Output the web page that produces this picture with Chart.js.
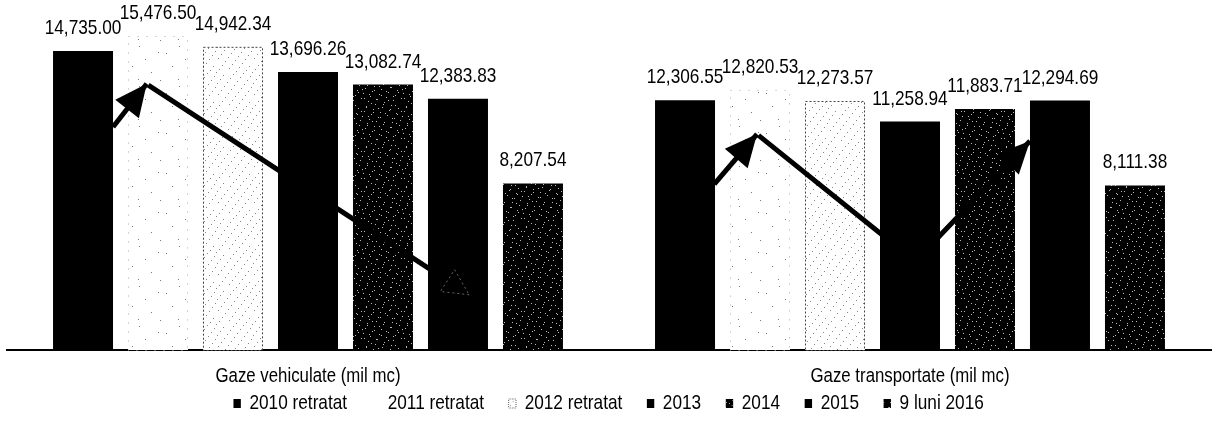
<!DOCTYPE html>
<html>
<head>
<meta charset="utf-8">
<script src="https://cdn.jsdelivr.net/npm/chart.js@4"></script>
<style>
html, body { margin: 0; padding: 0; background: #fff; }
#wrap { width: 1214px; height: 424px; }
</style>
</head>
<body>
<div id="wrap"><canvas id="chartGaze"></canvas></div>
<script>
// DATA
const categories = ['Gaze vehiculate (mil mc)', 'Gaze transportate (mil mc)'];
const seriesNames = ['2010 retratat', '2011 retratat', '2012 retratat', '2013', '2014', '2015', '9 luni 2016'];
const v2010 = [14735.00, 12306.55];
const v2011 = [15476.50, 12820.53];
const v2012 = [14942.34, 12273.57];
const v2013 = [13696.26, 11258.94];
const v2014 = [13082.74, 11883.71];
const v2015 = [12383.83, 12294.69];
const v2016 = [8207.54, 8111.38];

// trend arrows drawn over the bars: [category, bar slot, value]
const arrowPaths = [
    { pts: [[0, 0.40, 10990], [0, 0.85, 13120]], head: 'solid' },
    { pts: [[0, 0.87, 13050], [0, 5.15, 2720]], head: 'outline' },
    { pts: [[1, 0.39, 8170], [1, 0.96, 10640]], head: 'solid' },
    { pts: [[1, 0.98, 10580], [1, 3.07, 4360], [1, 4.60, 10300]], head: 'solid' }
];

const FONT = '"Liberation Sans", Arial, sans-serif';
const NARROW = 0.82; // no Arial Narrow here, so squeeze the text

// textures (scanned look)
function texture(bg, fg, size, rule) {
    const c = document.createElement('canvas');
    c.width = c.height = size;
    const g = c.getContext('2d');
    g.fillStyle = bg;
    g.fillRect(0, 0, size, size);
    g.fillStyle = fg;
    for (let i = 0; i < size; i++) {
        for (let j = 0; j < size; j++) {
            if (rule(i, j)) g.fillRect(i, j, 1, 1);
        }
    }
    return g.createPattern(c, 'repeat');
}

const solidBlack = '#000';
const whiteDots = texture('#fff', '#777', 40, (i, j) => (i * 7 + j * 13) % 211 === 0);
const lightDots = texture('#fff', '#888', 36, (i, j) => (i * 5 + j * 13) % 37 === 0);
const darkSpeckle = texture('#000', '#bbb', 40, (i, j) => (i * 7 + j * 11) % 41 === 0 || (i * 3 + j * 17) % 53 === 0);

const seriesValues = [v2010, v2011, v2012, v2013, v2014, v2015, v2016];
const seriesFill = [solidBlack, whiteDots, lightDots, solidBlack, darkSpeckle, solidBlack, darkSpeckle];
const seriesOutline = [null, [1, 8], [2, 2], null, null, null, null];

function fmt(v) {
    return v.toLocaleString('en-US', { minimumFractionDigits: 2, maximumFractionDigits: 2 });
}

function narrowText(ctx, text, x, y) {
    ctx.save();
    ctx.translate(x, y);
    ctx.scale(NARROW, 1);
    ctx.fillText(text, 0, 0);
    ctx.restore();
}

function slotPoint(chart, p) {
    const [cat, slot, val] = p;
    const lo = Math.floor(slot);
    const hi = Math.min(lo + 1, seriesNames.length - 1);
    const a = chart.getDatasetMeta(lo).data[cat].x;
    const b = chart.getDatasetMeta(hi).data[cat].x;
    const x = hi === lo ? a : a + (b - a) * (slot - lo);
    return [x, chart.scales.y.getPixelForValue(val)];
}

// squeeze the legend the same way as the other texts
const narrowLegend = {
    id: 'narrowLegend',
    beforeDraw(chart) {
        const leg = chart.legend;
        if (!leg || leg._narrow) return;
        const draw = leg.draw.bind(leg);
        leg.draw = function (area) {
            const ctx = chart.ctx;
            const cx = chart.width / 2;
            ctx.save();
            ctx.translate(cx, 0);
            ctx.scale(NARROW, 1);
            ctx.translate(-cx, 0);
            draw(area);
            ctx.restore();
        };
        leg._narrow = true;
    }
};

// outlines, arrows, value labels and category names
const overlay = {
    id: 'overlay',
    afterDatasetsDraw(chart) {
        const ctx = chart.ctx;
        ctx.save();

        // dotted outlines of the light bars
        chart.data.datasets.forEach((ds, i) => {
            if (!seriesOutline[i]) return;
            ctx.strokeStyle = i === 1 ? '#aaa' : '#444';
            ctx.lineWidth = 1;
            ctx.setLineDash(seriesOutline[i]);
            chart.getDatasetMeta(i).data.forEach(bar => {
                const w = bar.width;
                ctx.strokeRect(bar.x - w / 2 + 0.5, bar.y + 0.5, w - 1, bar.base - bar.y);
            });
        });
        ctx.setLineDash([]);

        // arrows
        arrowPaths.forEach(path => {
            const pts = path.pts.map(p => slotPoint(chart, p));
            const [x1, y1] = pts[pts.length - 2];
            const [x2, y2] = pts[pts.length - 1];
            const ang = Math.atan2(y2 - y1, x2 - x1);
            const len = path.head === 'solid' ? 32 : 26;
            const half = path.head === 'solid' ? 15 : 13;
            const bx = x2 - Math.cos(ang) * len, by = y2 - Math.sin(ang) * len;
            const nx = -Math.sin(ang) * half, ny = Math.cos(ang) * half;

            ctx.strokeStyle = '#000';
            ctx.lineWidth = 5;
            ctx.lineJoin = 'round';
            ctx.beginPath();
            pts.forEach((p, k) => {
                const last = k === pts.length - 1;
                const q = last && path.head === 'outline' ? [bx, by] : p;
                k ? ctx.lineTo(q[0], q[1]) : ctx.moveTo(q[0], q[1]);
            });
            ctx.stroke();

            ctx.beginPath();
            ctx.moveTo(x2, y2);
            ctx.lineTo(bx + nx, by + ny);
            ctx.lineTo(bx - nx, by - ny);
            ctx.closePath();
            if (path.head === 'solid') {
                ctx.fillStyle = '#000';
                ctx.fill();
            } else {
                ctx.strokeStyle = '#666';
                ctx.lineWidth = 1;
                ctx.setLineDash([2, 3]);
                ctx.stroke();
                ctx.setLineDash([]);
            }
        });

        // value labels
        ctx.font = '21px ' + FONT;
        ctx.fillStyle = '#000';
        ctx.textAlign = 'center';
        ctx.textBaseline = 'alphabetic';
        chart.data.datasets.forEach((ds, i) => {
            chart.getDatasetMeta(i).data.forEach((bar, j) => {
                narrowText(ctx, fmt(ds.data[j]), bar.x, bar.y - 17);
            });
        });

        // category names under the axis
        const xs = chart.scales.x;
        ctx.font = '20.5px ' + FONT;
        ctx.textBaseline = 'middle';
        categories.forEach((c, i) => {
            narrowText(ctx, c, xs.getPixelForValue(i), chart.chartArea.bottom + 26);
        });
        ctx.restore();
    }
};

const chartGaze = document.getElementById('chartGaze');

new Chart(chartGaze, {
    type: 'bar',
    data: {
        labels: categories,
        datasets: seriesNames.map((name, i) => ({
            label: name,
            data: seriesValues[i],
            backgroundColor: seriesFill[i],
            borderWidth: 0,
            categoryPercentage: 0.872,
            barPercentage: 0.8
        }))
    },
    options: {
        responsive: true,
        maintainAspectRatio: false,
        animation: false,
        layout: { padding: { left: 7, right: 3, top: 0, bottom: 0 } },
        scales: {
            x: {
                grid: { display: false },
                border: { display: true, color: '#000', width: 2 },
                ticks: { display: false },
                afterFit(scale) {
                    scale.height = 13;
                }
            },
            y: {
                display: false,
                min: 0,
                max: 17250
            }
        },
        plugins: {
            legend: {
                position: 'bottom',
                labels: {
                    color: '#000',
                    font: { family: FONT, size: 21 },
                    boxWidth: 9,
                    boxHeight: 9,
                    padding: 30,
                    generateLabels(chart) {
                        const items = Chart.defaults.plugins.legend.labels.generateLabels(chart);
                        items.forEach((it, i) => {
                            it.lineWidth = 0;
                            it.strokeStyle = 'rgba(0,0,0,0)';
                            if (i === 1) {
                                it.fillStyle = '#fff';
                            }
                            if (i === 2) {
                                it.lineWidth = 1;
                                it.strokeStyle = '#555';
                                it.lineDash = [1, 1];
                            }
                        });
                        return items;
                    }
                }
            },
            tooltip: { enabled: false }
        }
    },
    plugins: [narrowLegend, overlay]
});
</script>
</body>
</html>
